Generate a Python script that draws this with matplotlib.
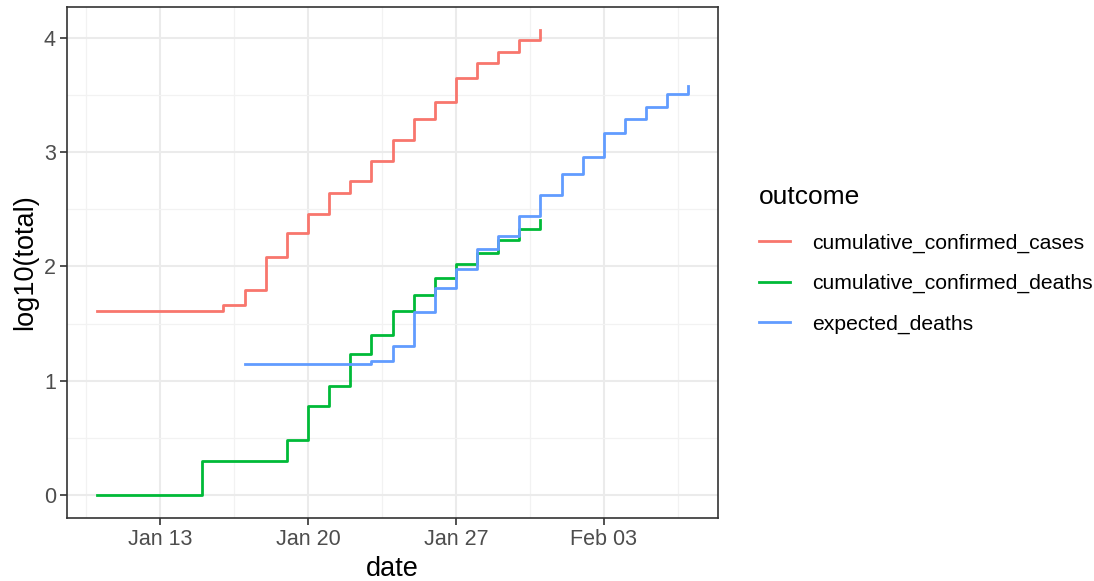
import numpy as np
import pandas as pd
import matplotlib
matplotlib.use('Agg')
import matplotlib.pyplot as plt
import matplotlib.dates as mdates

plt.rcParams['font.family'] = ['Liberation Sans', 'DejaVu Sans']

# log10 of totals, one value per day
cases_start = '2020-01-10'
cases = [1.61, 1.61, 1.61, 1.61, 1.61, 1.61, 1.66, 1.79, 2.08, 2.29, 2.46,
         2.64, 2.75, 2.92, 3.11, 3.29, 3.44, 3.65, 3.78, 3.88, 3.98, 4.07]

deaths_start = '2020-01-10'
deaths = [0, 0, 0, 0, 0, 0.30, 0.30, 0.30, 0.30, 0.48, 0.78,
          0.95, 1.23, 1.40, 1.61, 1.75, 1.90, 2.02, 2.12, 2.23, 2.33, 2.41]

expected_start = '2020-01-17'
expected = [1.145, 1.145, 1.145, 1.145, 1.145, 1.145, 1.17, 1.30, 1.60, 1.81, 1.98,
            2.15, 2.27, 2.44, 2.63, 2.81, 2.96, 3.17, 3.29, 3.40, 3.51, 3.58]

series = [
    ('cumulative_confirmed_cases', cases_start, cases, '#F8766D'),
    ('cumulative_confirmed_deaths', deaths_start, deaths, '#00BA38'),
    ('expected_deaths', expected_start, expected, '#619CFF'),
]

fig = plt.figure(figsize=(10.94, 5.81), dpi=100)
ax = fig.add_axes([67 / 1094, 63 / 581, 651 / 1094, 511 / 581])

for name, start, vals, col in series:
    dates = pd.date_range(start, periods=len(vals), freq='D')
    ax.step(dates, vals, where='post', color=col, linewidth=2.0, label=name)

ax.margins(x=0.05, y=0.05)

# grid like theme_bw
ax.set_facecolor('white')
ax.xaxis.set_major_locator(mdates.WeekdayLocator(byweekday=mdates.MO))
ax.xaxis.set_major_formatter(mdates.DateFormatter('%b %d'))
majors = ax.xaxis.get_major_locator()()
ax.xaxis.set_minor_locator(plt.FixedLocator(np.concatenate([[majors[0] - 3.5], np.array(majors) + 3.5])))
ax.set_yticks([0, 1, 2, 3, 4])
ax.set_yticks([0.5, 1.5, 2.5, 3.5], minor=True)
ax.grid(which='major', color='#EBEBEB', linewidth=1.5)
ax.grid(which='minor', color='#F2F2F2', linewidth=0.9)
ax.set_axisbelow(True)
for s in ax.spines.values():
    s.set_color('#333333')
    s.set_linewidth(1.2)

ax.tick_params(which='major', length=5, width=1.2, color='#333333',
               labelsize=15.5, labelcolor='#4D4D4D', pad=3)
ax.tick_params(which='minor', length=0)

ax.set_xlabel('date', fontsize=19.5, labelpad=4)
ax.set_ylabel('log10(total)', fontsize=19.5, labelpad=4)

leg = fig.legend(loc='upper left', bbox_to_anchor=(740 / 1094, 1 - 166 / 581),
                 title='outcome', fontsize=15.2, title_fontsize=19,
                 frameon=False, handlelength=1.45, handletextpad=1.05,
                 labelspacing=1.0, alignment='left')
leg._legend_box.sep = 0.9 * 15.2 + 4

fig.savefig('out.png', dpi=100)
